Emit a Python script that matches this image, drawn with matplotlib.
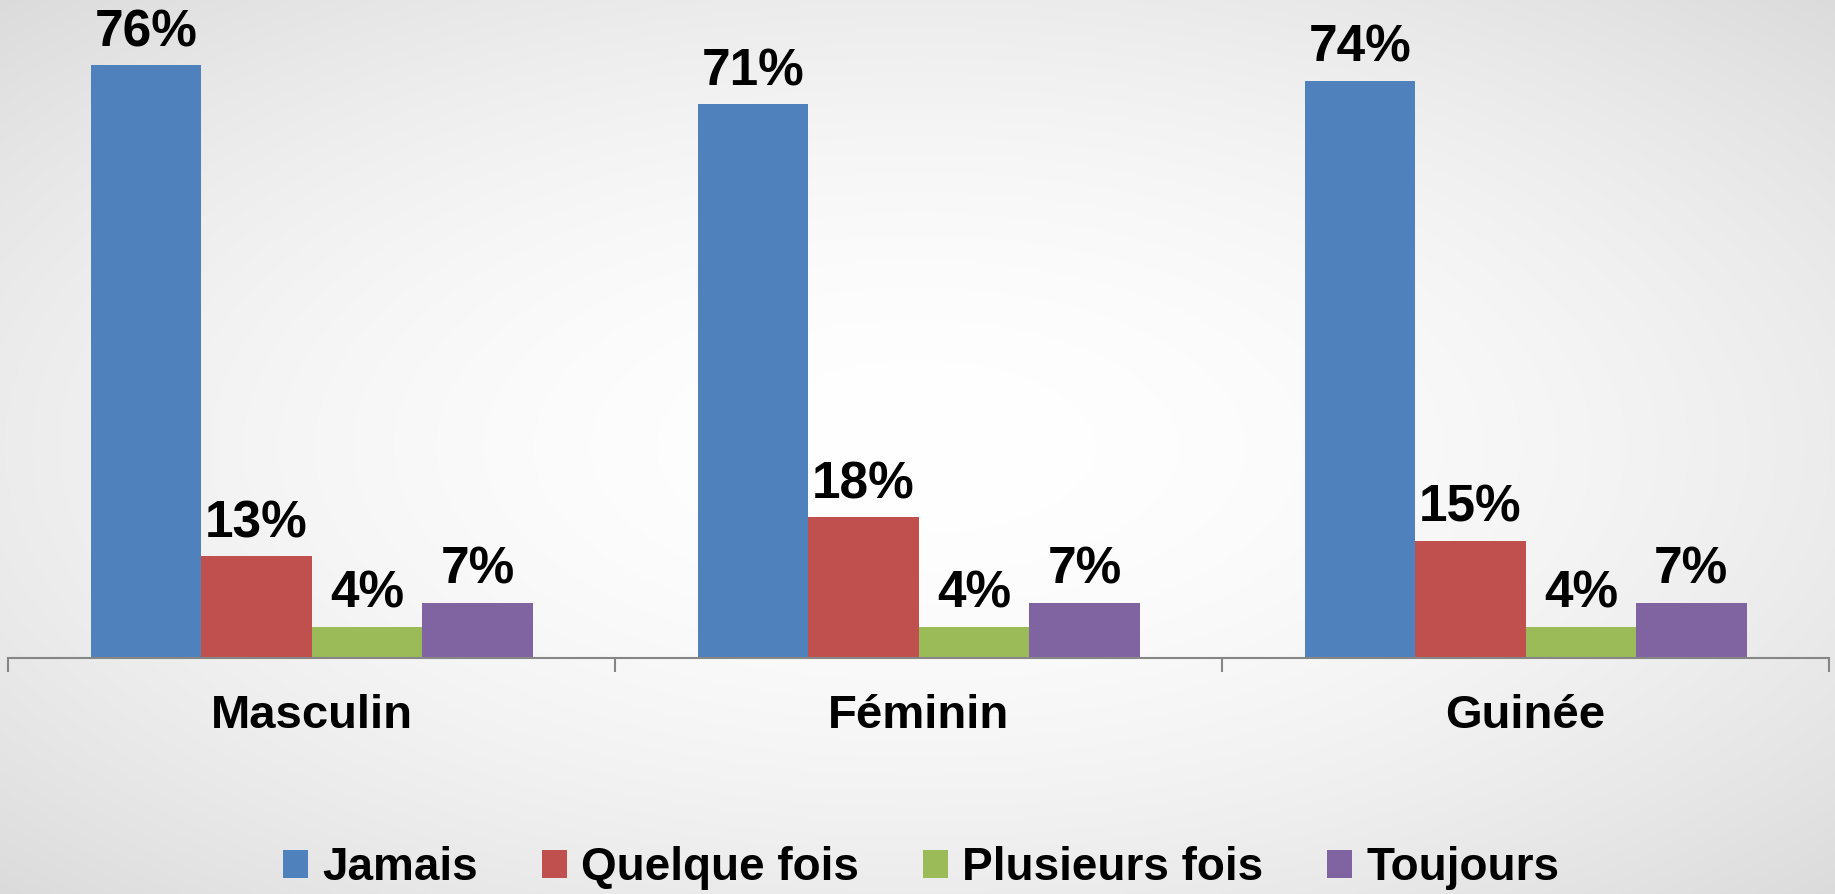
import numpy as np
import matplotlib.pyplot as plt

plt.rcParams['font.family'] = ['Liberation Sans', 'DejaVu Sans']
plt.rcParams['font.weight'] = 'bold'

categories = ['Masculin', 'Féminin', 'Guinée']
series_names = ['Jamais', 'Quelque fois', 'Plusieurs fois', 'Toujours']
jamais = [76, 71, 74]
quelque_fois = [13, 18, 15]
plusieurs_fois = [4, 4, 4]
toujours = [7, 7, 7]
colors = ['#4F81BD', '#C0504D', '#9BBB59', '#8064A2']

values = [jamais, quelque_fois, plusieurs_fois, toujours]

fig = plt.figure(figsize=(18.35, 8.94), dpi=100)

# soft radial background, white centre fading to grey corners
bg = fig.add_axes([0, 0, 1, 1], zorder=-10)
yy, xx = np.mgrid[-1:1:300j, -1:1:600j]
r = np.sqrt(xx ** 2 + yy ** 2) / np.sqrt(2)
shade = 1.0 - 0.14 * r ** 1.8
bg.imshow(np.dstack([shade, shade, shade]), aspect='auto', extent=[0, 1, 0, 1])
bg.axis('off')

ax = fig.add_axes([0.0045, 0.2643, 0.9923, 0.7357])
ax.patch.set_alpha(0)

x = np.arange(len(categories))
width = 0.182
for i, (name, vals) in enumerate(zip(series_names, values)):
    pos = x + (i - 1.5) * width
    bars = ax.bar(pos, vals, width, color=colors[i], label=name, edgecolor='none')
    for b, v in zip(bars, vals):
        ax.annotate(f'{v}%', (b.get_x() + b.get_width() / 2, v),
                    xytext=(0, 6), textcoords='offset points',
                    ha='center', va='bottom', fontsize=37, fontweight='bold')

ax.set_xlim(-0.5, 2.5)
ax.set_ylim(0, 84.4)
for s in ['top', 'right', 'left']:
    ax.spines[s].set_visible(False)
ax.spines['bottom'].set_color('#868686')
ax.spines['bottom'].set_linewidth(1.5)
ax.set_yticks([])
ax.set_xticks(x)
ax.set_xticklabels(categories, fontsize=34, fontweight='bold')
ax.tick_params(axis='x', which='major', length=0, pad=26)
ax.set_xticks([-0.5, 0.5, 1.5, 2.5], minor=True)
ax.tick_params(axis='x', which='minor', length=10, width=1.5, color='#868686')

fig.legend(loc='center', bbox_to_anchor=(0.502, 0.029), ncol=4, frameon=False,
           prop={'size': 33, 'weight': 'bold'}, handlelength=0.55, handleheight=0.55,
           handletextpad=0.3, columnspacing=1.4)

fig.savefig('out.png', dpi=100)
